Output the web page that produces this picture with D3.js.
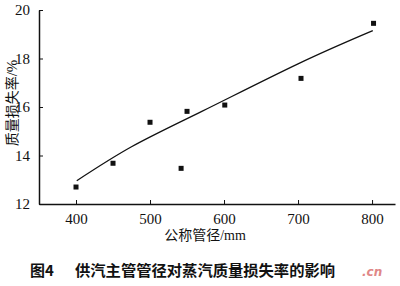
<!DOCTYPE html>
<html>
<head>
<meta charset="utf-8">
<script src="https://cdn.jsdelivr.net/npm/d3@7"></script>
<style>
body { margin: 0; background: #fff; }
text { fill: #111; }
</style>
</head>
<body>
<svg width="400" height="286"></svg>
<script>
// measured points (pipe diameter mm, loss %)
const diameters = [400, 450, 500, 542, 550, 601, 704, 802]
const lossRates = [12.70, 13.68, 15.37, 13.47, 15.82, 16.08, 17.18, 19.45]

// fitted curve
const fitX = [401, 475, 570, 700, 801]
const fitY = [12.96, 14.36, 15.82, 17.78, 19.15]

const xTicks = [400, 500, 600, 700, 800]
const yTicks = [12, 14, 16, 18, 20]

const svg = d3.select("svg")

const x = d3.scaleLinear().domain([350, 831]).range([39, 395])
const y = d3.scaleLinear().domain([12, 20]).range([204, 10])

const serif = "'Liberation Serif', 'DejaVu Serif', serif"
const cjk = "'Noto Sans CJK SC', sans-serif"

// axes with inward ticks
const xAxis = svg.append("g")
    .attr("transform", "translate(0,204)")
    .call(d3.axisBottom(x).tickValues(xTicks).tickSizeInner(-4).tickSizeOuter(0).tickPadding(9))
xAxis.select(".domain").attr("stroke", "#111").attr("stroke-width", 1.5)
xAxis.selectAll(".tick line").attr("stroke", "#111")
xAxis.selectAll("text").attr("font-family", serif).attr("font-size", 15).attr("fill", "#111")

const yAxis = svg.append("g")
    .attr("transform", "translate(39,0)")
    .call(d3.axisLeft(y).tickValues(yTicks).tickSizeInner(-4).tickSizeOuter(0).tickPadding(9))
yAxis.select(".domain").attr("stroke", "#111").attr("stroke-width", 1.5)
yAxis.selectAll(".tick line").attr("stroke", "#111")
yAxis.selectAll("text").attr("font-family", serif).attr("font-size", 15).attr("fill", "#111")

// fitted line
const fit = fitX.map((d, i) => [d, fitY[i]])
svg.append("path")
    .datum(fit)
    .attr("fill", "none")
    .attr("stroke", "#111")
    .attr("stroke-width", 1.3)
    .attr("d", d3.line().x(d => x(d[0])).y(d => y(d[1])).curve(d3.curveNatural))

// square markers
const pts = diameters.map((d, i) => ({ d: d, v: lossRates[i] }))
svg.append("g")
    .selectAll("rect")
    .data(pts)
    .enter().append("rect")
    .attr("x", p => x(p.d) - 2.5)
    .attr("y", p => y(p.v) - 2.5)
    .attr("width", 5)
    .attr("height", 5)
    .attr("fill", "#111")

// axis titles
const xt = svg.append("text")
    .attr("x", 205)
    .attr("y", 240)
    .attr("text-anchor", "middle")
    .attr("font-size", 14)
xt.append("tspan").attr("font-family", cjk).text("公称管径")
xt.append("tspan").attr("font-family", serif).text("/mm")

const yt = svg.append("text")
    .attr("transform", "translate(17,103) rotate(-90)")
    .attr("text-anchor", "middle")
    .attr("font-size", 14)
yt.append("tspan").attr("font-family", cjk).text("质量损失率")
yt.append("tspan").attr("font-family", serif).attr("font-size", 15).text("/%")

// caption
svg.append("text")
    .attr("x", 30)
    .attr("y", 276)
    .attr("font-family", cjk)
    .attr("font-size", 15)
    .attr("font-weight", "bold")
    .text("图4")
svg.append("text")
    .attr("x", 75)
    .attr("y", 276)
    .attr("font-family", cjk)
    .attr("font-size", 15.3)
    .attr("font-weight", "bold")
    .text("供汽主管管径对蒸汽质量损失率的影响")

// watermark
svg.append("text")
    .attr("x", 362)
    .attr("y", 276)
    .attr("font-family", "'DejaVu Sans', sans-serif")
    .attr("font-size", 12)
    .attr("font-style", "italic")
    .attr("font-weight", "bold")
    .style("fill", "#d96a6a")
    .style("opacity", 0.8)
    .text(".cn")
</script>
</body>
</html>
